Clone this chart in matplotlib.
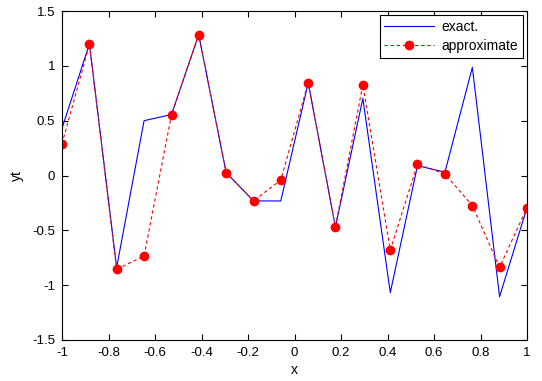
import numpy as np
import matplotlib
matplotlib.use("Agg")
import matplotlib.pyplot as plt

x = [-1.0, -0.882, -0.765, -0.647, -0.529, -0.412, -0.294, -0.176, -0.059,
     0.059, 0.176, 0.294, 0.412, 0.529, 0.647, 0.765, 0.882, 1.0]
y_exact = [0.43, 1.20, -0.84, 0.50, 0.556, 1.284, 0.026, -0.232, -0.232,
           0.846, -0.469, 0.703, -1.068, 0.09, 0.03, 0.986, -1.105, -0.293]
y_approx = [0.29, 1.196, -0.855, -0.734, 0.554, 1.284, 0.026, -0.232, -0.041,
            0.846, -0.469, 0.828, -0.679, 0.102, 0.014, -0.275, -0.837, -0.293]
xticks = [-1, -0.8, -0.6, -0.4, -0.2, 0, 0.2, 0.4, 0.6, 0.8, 1]
xticklabels = ['-1', '-0.8', '-0.6', '-0.4', '-0.2', '0', '0.2', '0.4', '0.6', '0.8', '1']
yticks = [-1.5, -1, -0.5, 0, 0.5, 1, 1.5]
yticklabels = ['-1.5', '-1', '-0.5', '0', '0.5', '1', '1.5']

plt.rcParams['font.family'] = ['Liberation Sans', 'DejaVu Sans']
fig = plt.figure(figsize=(5.42, 3.81), dpi=100)
ax = fig.add_axes([62/542, 1-340/381, (527-62)/542, (340-11)/381])

ax.plot(x, y_exact, color='#0000ff', lw=0.8, label='exact.')
ax.plot(x, y_approx, color='#ff0000', lw=0.8, linestyle=(0, (3, 2.5)),
        marker='o', markersize=6, markerfacecolor='#ff0000',
        markeredgecolor='#ff0000', label='approximate')

ax.set_xlim(-1, 1)
ax.set_ylim(-1.5, 1.5)
ax.set_xticks(xticks)
ax.set_xticklabels(xticklabels)
ax.set_yticks(yticks)
ax.set_yticklabels(yticklabels)
ax.tick_params(direction='in', top=True, right=True, length=4, width=0.8,
               labelsize=9.5, pad=5)
for s in ax.spines.values():
    s.set_linewidth(0.8)
ax.set_xlabel('x', fontsize=10, labelpad=3)
ax.set_ylabel('yt', fontsize=10, labelpad=6)

leg = ax.legend(loc='upper right', fontsize=10, frameon=True, fancybox=False,
                edgecolor='black', framealpha=1, borderaxespad=0.3,
                handlelength=3.6, handletextpad=0.5, borderpad=0.35,
                labelspacing=0.35)
leg.get_frame().set_linewidth(0.8)

fig.savefig('out.png', dpi=100)
